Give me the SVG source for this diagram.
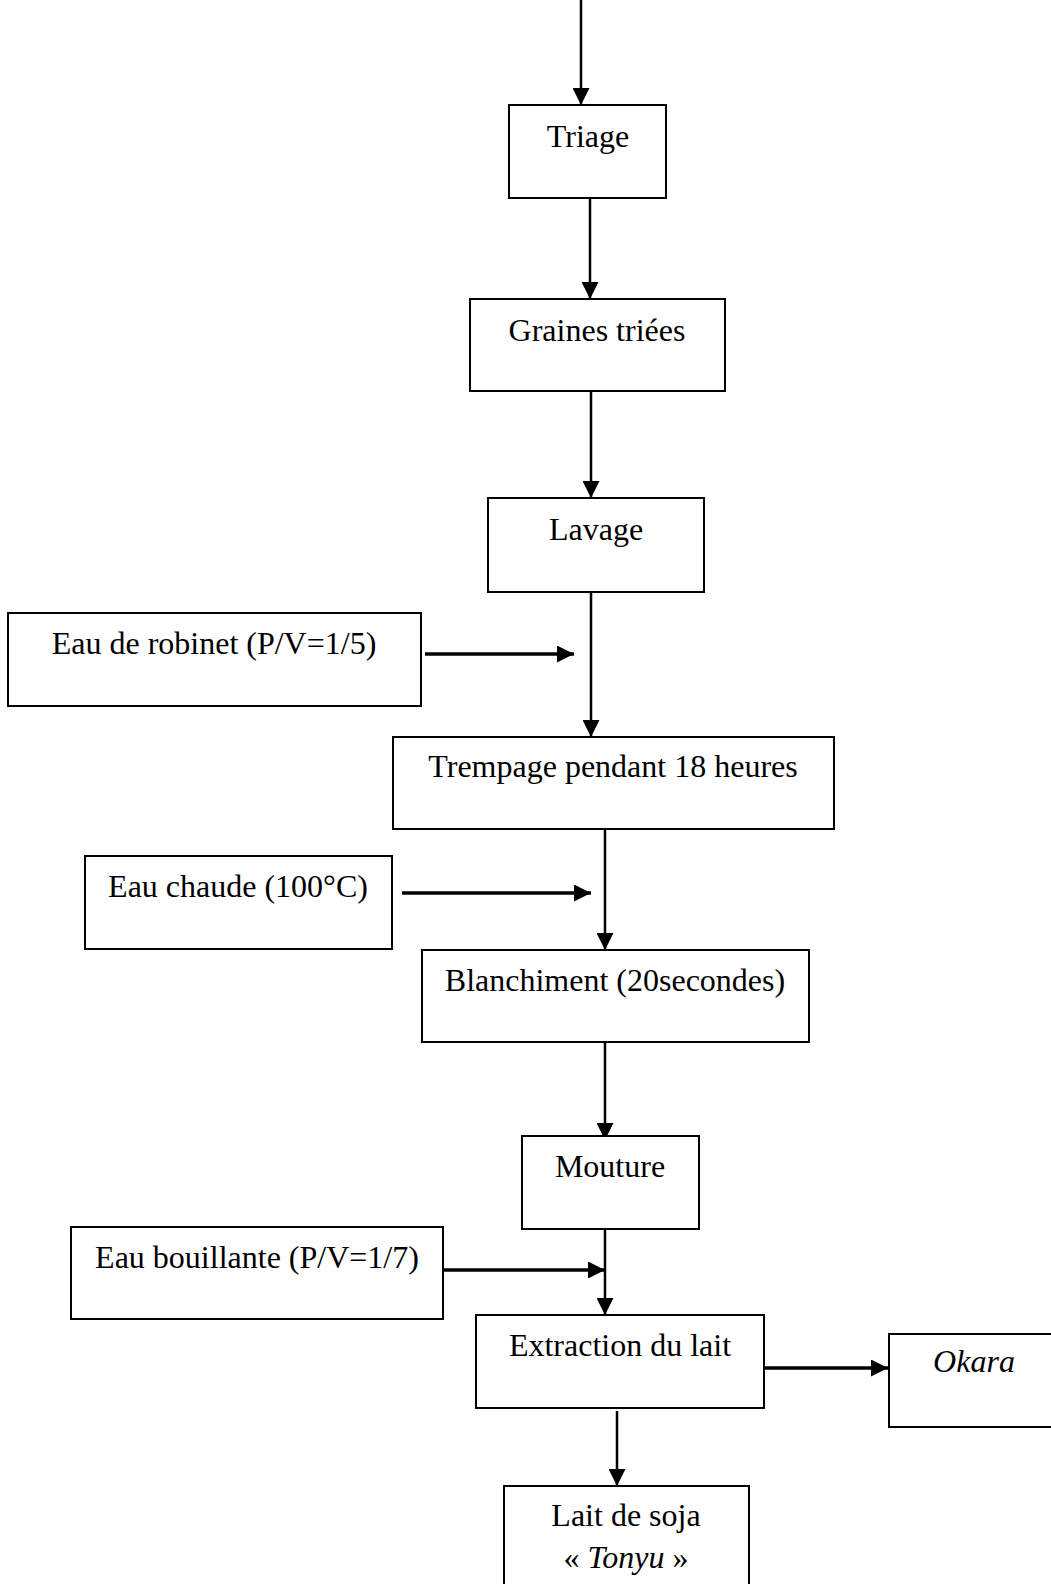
<svg xmlns="http://www.w3.org/2000/svg" width="1051" height="1584" viewBox="0 0 1051 1584">
<style>
.box{fill:#fff;stroke:#000;stroke-width:2}
.t{font-family:"Liberation Serif","Times New Roman",serif;font-size:32px;fill:#000;text-anchor:middle}
.c{stroke:#000;stroke-width:2.5;fill:none}
.h{stroke:#000;stroke-width:3.5;fill:none}
</style>
<defs>
<marker id="ah" markerUnits="userSpaceOnUse" markerWidth="17" markerHeight="17" refX="17" refY="8.5" orient="auto">
<path d="M0,0 L17,8.5 L0,17 z" fill="#000"/>
</marker>
</defs>
<rect width="1051" height="1584" fill="#fff"/>
<g id="connectors">
<line class="c" x1="581" y1="0" x2="581" y2="105" marker-end="url(#ah)"/>
<line class="c" x1="590" y1="198" x2="590" y2="299" marker-end="url(#ah)"/>
<line class="c" x1="591" y1="391" x2="591" y2="498" marker-end="url(#ah)"/>
<line class="c" x1="591" y1="592" x2="591" y2="737" marker-end="url(#ah)"/>
<line class="h" x1="425" y1="654" x2="574" y2="654" marker-end="url(#ah)"/>
<line class="c" x1="605" y1="829" x2="605" y2="950" marker-end="url(#ah)"/>
<line class="h" x1="402" y1="893" x2="591" y2="893" marker-end="url(#ah)"/>
<line class="c" x1="605" y1="1042" x2="605" y2="1140" marker-end="url(#ah)"/>
<line class="c" x1="605" y1="1229" x2="605" y2="1315" marker-end="url(#ah)"/>
<line class="h" x1="444" y1="1270" x2="605" y2="1270" marker-end="url(#ah)"/>
<line class="h" x1="764" y1="1368" x2="888" y2="1368" marker-end="url(#ah)"/>
<line class="c" x1="617" y1="1411" x2="617" y2="1486" marker-end="url(#ah)"/>
</g>
<g id="triage"><rect class="box" x="509" y="105" width="157" height="93"/><text class="t" x="588" y="147">Triage</text></g>
<g id="graines"><rect class="box" x="470" y="299" width="255" height="92"/><text class="t" x="597" y="341">Graines triées</text></g>
<g id="lavage"><rect class="box" x="488" y="498" width="216" height="94"/><text class="t" x="596" y="540">Lavage</text></g>
<g id="eau-robinet"><rect class="box" x="8" y="613" width="413" height="93"/><text class="t" x="214" y="654">Eau de robinet (P/V=1/5)</text></g>
<g id="trempage"><rect class="box" x="393" y="737" width="441" height="92"/><text class="t" x="613" y="777">Trempage pendant 18 heures</text></g>
<g id="eau-chaude"><rect class="box" x="85" y="856" width="307" height="93"/><text class="t" x="238" y="897">Eau chaude (100°C)</text></g>
<g id="blanchiment"><rect class="box" x="422" y="950" width="387" height="92"/><text class="t" x="615" y="991">Blanchiment (20secondes)</text></g>
<g id="mouture"><rect class="box" x="522" y="1136" width="177" height="93"/><text class="t" x="610" y="1177">Mouture</text></g>
<g id="eau-bouillante"><rect class="box" x="71" y="1227" width="372" height="92"/><text class="t" x="257" y="1268">Eau bouillante (P/V=1/7)</text></g>
<g id="extraction"><rect class="box" x="476" y="1315" width="288" height="93"/><text class="t" x="620" y="1356">Extraction du lait</text></g>
<g id="okara"><rect class="box" x="889" y="1334" width="180" height="93"/><text class="t" x="974" y="1372" font-style="italic">Okara</text></g>
<g id="lait"><rect class="box" x="504" y="1486" width="245" height="110"/><text class="t" x="626" y="1526">Lait de soja</text><text class="t" x="626" y="1568">« <tspan font-style="italic">Tonyu</tspan> »</text></g>
</svg>
